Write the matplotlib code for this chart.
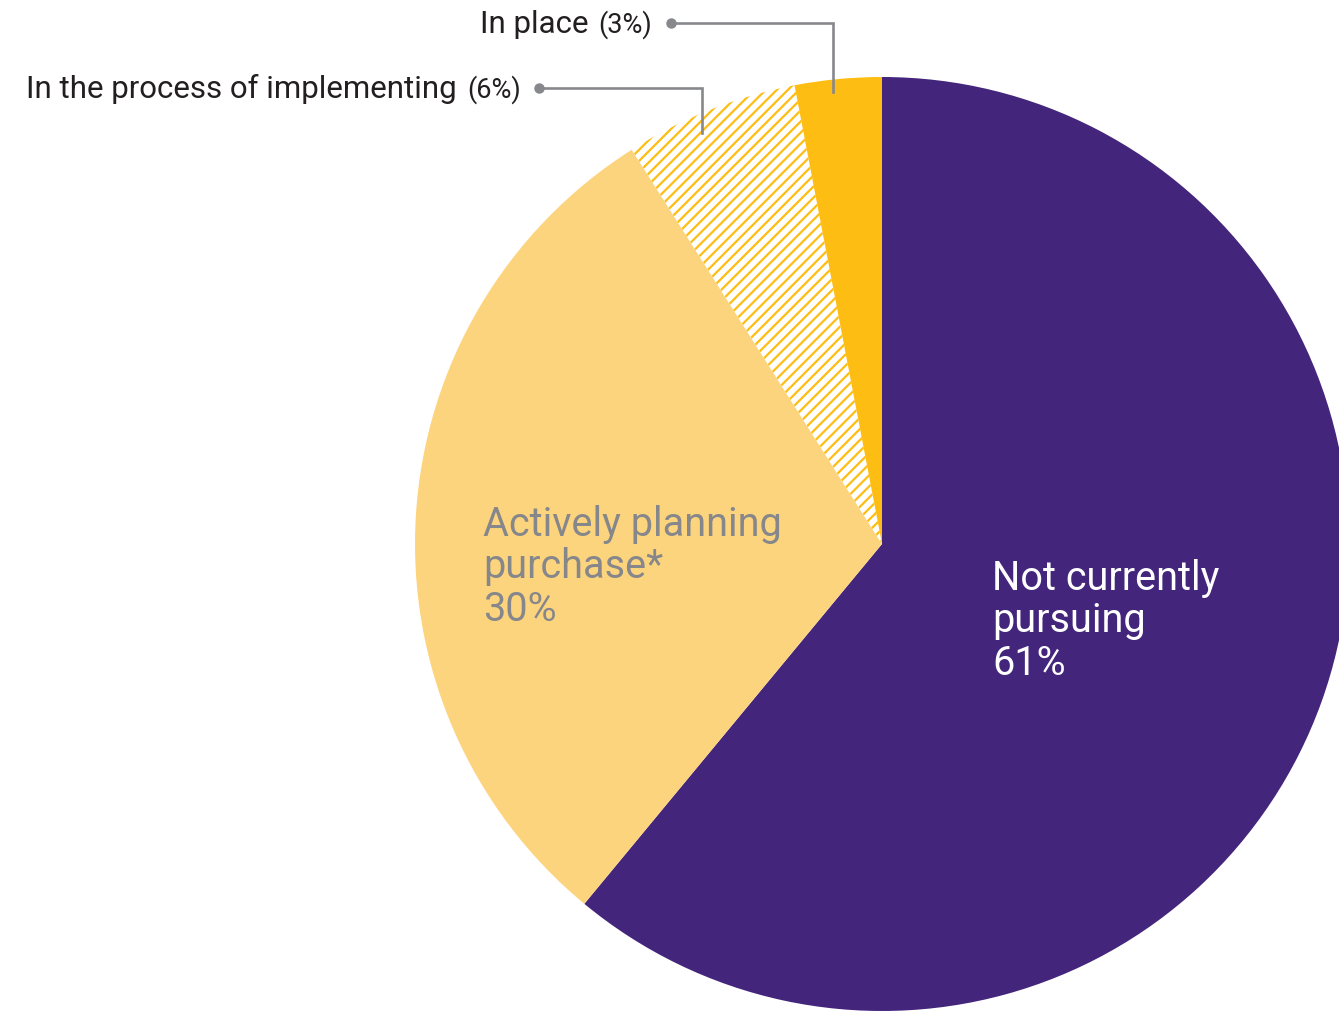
import matplotlib
matplotlib.use("Agg")
import matplotlib.pyplot as plt

W, H = 1339, 1011

labels = ["Not currently pursuing", "Actively planning purchase*",
          "In the process of implementing", "In place"]
values = [61, 30, 6, 3]
colors = ["#44257c", "#fdd47e", "#ffffff", "#fdbd13"]

plt.rcParams["hatch.linewidth"] = 1.6

fig = plt.figure(figsize=(W / 100, H / 100), dpi=100)
ax = fig.add_axes([0, 0, 1, 1])

wedges, _ = ax.pie(values, colors=colors, startangle=90, counterclock=False,
                   center=(882, H - 544), radius=467,
                   wedgeprops=dict(linewidth=0))
# hatched slice
wedges[2].set_edgecolor("#fdbd13")
wedges[2].set_hatch("///")
wedges[2].set_linewidth(0)

ax.set_xlim(0, W)
ax.set_ylim(0, H)
ax.set_aspect("auto")
ax.axis("off")

# labels inside the big slices
big_font = ["Roboto", "DejaVu Sans"]
inside = [
    (992, 590, ["Not currently", "pursuing", "61%"], "white"),
    (483, 536, ["Actively planning", "purchase*", "30%"], "#86878b"),
]
for x, y, lines, c in inside:
    for i, line in enumerate(lines):
        ax.text(x, H - (y + i * 42.5), line, color=c, fontsize=28.5,
                family=big_font, va="baseline", ha="left")

# small labels with leader lines
small_font = ["Roboto", "DejaVu Sans"]
grey = "#87888c"
callouts = [
    # text, pct, text end x, pct start x, baseline y, dot x, elbow x, end y
    ("In the process of implementing", "(6%)", 457, 467, 98, 539, 702, 133),
    ("In place", "(3%)", 588, 598, 33, 671, 833, 92),
]
for txt, pct, tx, px, by, dx, ex, ey in callouts:
    ax.text(tx, H - by, txt, color="#231f20", fontsize=22.5, family=small_font,
            ha="right", va="baseline")
    ax.text(px, H - by, pct, color="#231f20", fontsize=19.5, family=small_font,
            ha="left", va="baseline")
    ly = by - 10
    ax.plot([dx, ex, ex], [H - ly, H - ly, H - ey], color=grey, lw=1.9,
            solid_joinstyle="miter")
    ax.plot([dx], [H - ly], "o", color=grey, markersize=6.5)

fig.savefig("out.png", dpi=100)
